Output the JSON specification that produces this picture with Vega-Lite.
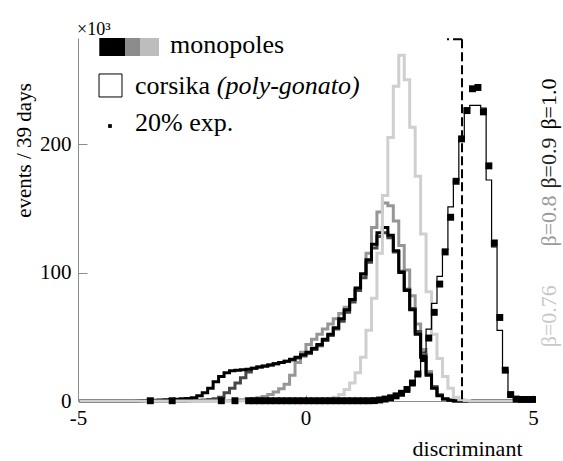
{
"$schema": "https://vega.github.io/schema/vega-lite/v6.json",
"width": 455, "height": 363,
"autosize": {"type": "none"},
"padding": {"left": 78, "top": 38, "right": 30, "bottom": 60},
"background": "white",
"config": {"view": {"stroke": null}, "font": "Liberation Serif",
 "style": {"guide-label": {"font": "Liberation Serif"}, "guide-title": {"font": "Liberation Serif"}, "text": {"font": "Liberation Serif"}},
 "axis": {"grid": false, "domainColor": "#8c8c8c", "tickColor": "#8c8c8c", "labelFont": "Liberation Serif", "labelFontSize": 21, "labelColor": "black", "titleFont": "Liberation Serif", "titleFontWeight": "normal", "titleColor": "black", "titleFontSize": 21}},
"datasets": {
"ann": [{}],
"h": [
{"d":-4.97,"b10":0,"b09":0,"b08":0,"b076":0},
{"d":-4.85,"b10":0,"b09":0,"b08":0,"b076":0},
{"d":-4.73,"b10":0,"b09":0,"b08":0,"b076":0},
{"d":-4.61,"b10":0,"b09":0,"b08":0,"b076":0},
{"d":-4.49,"b10":0,"b09":0,"b08":0,"b076":0},
{"d":-4.37,"b10":0,"b09":0,"b08":0,"b076":0},
{"d":-4.25,"b10":0,"b09":0,"b08":0,"b076":0},
{"d":-4.13,"b10":0,"b09":0,"b08":0,"b076":0},
{"d":-4.01,"b10":0,"b09":0,"b08":0,"b076":0},
{"d":-3.89,"b10":0,"b09":0,"b08":0,"b076":0},
{"d":-3.77,"b10":0,"b09":0,"b08":0,"b076":0},
{"d":-3.65,"b10":0.2,"b09":0,"b08":0,"b076":0},
{"d":-3.53,"b10":0.3,"b09":0,"b08":0,"b076":0},
{"d":-3.41,"b10":0.5,"b09":0,"b08":0,"b076":0,"exp":0.2},
{"d":-3.29,"b10":0.6,"b09":0,"b08":0,"b076":0},
{"d":-3.17,"b10":0.8,"b09":0,"b08":0,"b076":0},
{"d":-3.05,"b10":1,"b09":0,"b08":0,"b076":0},
{"d":-2.93,"b10":1.2,"b09":0,"b08":0,"b076":0,"exp":0.2},
{"d":-2.81,"b10":1.4,"b09":0,"b08":0,"b076":0},
{"d":-2.69,"b10":1.7,"b09":0,"b08":0,"b076":0},
{"d":-2.57,"b10":2,"b09":0.2,"b08":0,"b076":0},
{"d":-2.45,"b10":2.5,"b09":0.3,"b08":0,"b076":0},
{"d":-2.33,"b10":4,"b09":0.5,"b08":0,"b076":0},
{"d":-2.21,"b10":6.5,"b09":0.8,"b08":0,"b076":0},
{"d":-2.09,"b10":10,"b09":1.2,"b08":0,"b076":0},
{"d":-1.97,"b10":15,"b09":1.8,"b08":0,"b076":0},
{"d":-1.85,"b10":19,"b09":3,"b08":0,"b076":0,"exp":0.2},
{"d":-1.73,"b10":22,"b09":6.5,"b08":0.2,"b076":0},
{"d":-1.61,"b10":23.5,"b09":10,"b08":0.3,"b076":0},
{"d":-1.55,"exp":0.2},
{"d":-1.49,"b10":24,"b09":14,"b08":0.6,"b076":0},
{"d":-1.37,"b10":24.3,"b09":18,"b08":1,"b076":0},
{"d":-1.25,"b10":24.8,"b09":22.5,"b08":1.5,"b076":0,"exp":0.2},
{"d":-1.13,"b10":25.5,"b09":25.5,"b08":2,"b076":0,"exp":0.2},
{"d":-1.01,"b10":26.5,"b09":26.5,"b08":2.5,"b076":0,"exp":0.2},
{"d":-0.89,"b10":27.2,"b09":27,"b08":3.5,"b076":0,"exp":0.2},
{"d":-0.77,"b10":28,"b09":28,"b08":5,"b076":0,"exp":0.2},
{"d":-0.65,"b10":29,"b09":29,"b08":7,"b076":0,"exp":0.2},
{"d":-0.53,"b10":30,"b09":30,"b08":9.5,"b076":0,"exp":0.2},
{"d":-0.41,"b10":31,"b09":31,"b08":13,"b076":0,"exp":0.2},
{"d":-0.29,"b10":32.5,"b09":32,"b08":20,"b076":0,"exp":0.2},
{"d":-0.17,"b10":34,"b09":33.5,"b08":30,"b076":0,"exp":0.2},
{"d":-0.05,"b10":36,"b09":35,"b08":38,"b076":0,"exp":0.2},
{"d":0.07,"b10":38,"b09":37,"b08":44,"b076":0.2,"exp":0.2},
{"d":0.19,"b10":41,"b09":40,"b08":48,"b076":0.5,"exp":0.2},
{"d":0.31,"b10":44,"b09":43,"b08":52,"b076":0.8,"exp":0.2},
{"d":0.43,"b10":48,"b09":47,"b08":56,"b076":1.2,"exp":0.2},
{"d":0.55,"b10":52,"b09":51,"b08":60,"b076":2,"exp":0.2},
{"d":0.67,"b10":57,"b09":56,"b08":64,"b076":3,"exp":0.2},
{"d":0.79,"b10":64,"b09":62,"b08":68,"b076":5,"exp":0.2},
{"d":0.91,"b10":71,"b09":69,"b08":73,"b076":9,"exp":0.2},
{"d":1.03,"b10":79,"b09":77,"b08":79,"b076":14,"exp":0.2,"cors":0},
{"d":1.15,"b10":88,"b09":86,"b08":87,"b076":22,"exp":0.2,"cors":0.2},
{"d":1.27,"b10":99,"b09":96,"b08":98,"b076":34,"exp":0.2,"cors":0.3},
{"d":1.39,"b10":110,"b09":108,"b08":115,"b076":55,"exp":0.2,"cors":0.5},
{"d":1.51,"b10":122,"b09":119,"b08":135,"b076":80,"exp":0.3,"cors":0.7},
{"d":1.63,"b10":131,"b09":128,"b08":147,"b076":115,"exp":0.8,"cors":1},
{"d":1.75,"b10":135,"b09":131,"b08":154,"b076":160,"exp":1.5,"cors":1.5},
{"d":1.87,"b10":129,"b09":127,"b08":152,"b076":205,"exp":2.5,"cors":2},
{"d":1.99,"b10":117,"b09":116,"b08":140,"b076":245,"exp":4,"cors":3},
{"d":2.11,"b10":100,"b09":101,"b08":121,"b076":269,"exp":6,"cors":5},
{"d":2.23,"b10":86,"b09":87,"b08":102,"b076":250,"exp":9,"cors":8},
{"d":2.35,"b10":71,"b09":72,"b08":82,"b076":213,"exp":14,"cors":13},
{"d":2.47,"b10":52,"b09":54,"b08":60,"b076":175,"exp":21,"cors":20},
{"d":2.59,"b10":34,"b09":36,"b08":40,"b076":130,"exp":33,"cors":38},
{"d":2.71,"b10":20,"b09":21,"b08":23,"b076":85,"exp":49,"cors":56},
{"d":2.83,"b10":10,"b09":11,"b08":11,"b076":52,"exp":69,"cors":76},
{"d":2.95,"b10":4,"b09":4.5,"b08":5,"b076":33,"exp":91,"cors":97},
{"d":3.07,"b10":1.5,"b09":1.5,"b08":2,"b076":19,"exp":116,"cors":118},
{"d":3.19,"b10":0.5,"b09":0.5,"b08":0.7,"b076":10,"exp":143,"cors":151},
{"d":3.31,"b10":0,"b09":0,"b08":0.3,"b076":3,"exp":171,"cors":172},
{"d":3.43,"b10":0,"b09":0,"b08":0,"b076":1,"exp":204,"cors":203},
{"d":3.55,"b10":0,"b09":0,"b08":0,"b076":0.3,"exp":226,"cors":228},
{"d":3.67,"b10":0,"b09":0,"b08":0,"b076":0,"exp":243,"cors":230},
{"d":3.79,"b10":0,"b09":0,"b08":0,"b076":0,"exp":244,"cors":230},
{"d":3.91,"b10":0,"b09":0,"b08":0,"b076":0,"exp":225,"cors":228},
{"d":4.03,"b10":0,"b09":0,"b08":0,"b076":0,"exp":183,"cors":172},
{"d":4.15,"b10":0,"b09":0,"b08":0,"b076":0,"exp":123,"cors":120},
{"d":4.27,"b10":0,"b09":0,"b08":0,"b076":0,"exp":65,"cors":55},
{"d":4.39,"b10":0,"b09":0,"b08":0,"b076":0,"exp":24,"cors":24},
{"d":4.51,"b10":0,"b09":0,"b08":0,"b076":0,"exp":5,"cors":3},
{"d":4.63,"b10":0,"b09":0,"b08":0,"b076":0,"exp":1.5,"cors":1},
{"d":4.75,"b10":0,"b09":0,"b08":0,"b076":0,"exp":1.2,"cors":0.5},
{"d":4.87,"b10":0,"b09":0,"b08":0,"b076":0,"exp":1.2,"cors":0.3},
{"d":4.99,"b10":0,"b09":0,"b08":0,"b076":0,"exp":1.2,"cors":0.3}
]},
"layer": [
{"data": {"name": "h"}, "transform": [{"filter": "isValid(datum.b08)"}],
 "mark": {"type": "line", "interpolate": "step", "color": "#969696", "strokeWidth": 3},
 "encoding": {
  "x": {"field": "d", "type": "quantitative", "scale": {"domain": [-5, 5], "nice": false, "zero": false},
        "axis": {"values": [-5, 0, 5], "title": "discriminant", "tickSize": -6, "labelPadding": 12, "labelExpr": "'' + datum.value", "labelFlush": false, "labelFont": "Liberation Serif", "labelFontSize": 21, "titleFont": "Liberation Serif", "titleX": 389, "titleY": 54, "titleAlign": "center", "titleBaseline": "alphabetic", "titleFontSize": 22}},
  "y": {"field": "b08", "type": "quantitative", "scale": {"domain": [0, 282.5], "nice": false}, "title": "events / 39 days",
        "axis": {"values": [0, 100, 200], "tickSize": -9, "labelPadding": 16, "labelFont": "Liberation Serif", "labelFontSize": 21, "titleFont": "Liberation Serif", "titleFontSize": 21, "titleX": -48, "titleY": 112, "titleAlign": "center", "titleBaseline": "alphabetic", "titleAngle": 270}}
 }},
{"data": {"name": "h"}, "transform": [{"filter": "isValid(datum.b09)"}],
 "mark": {"type": "line", "interpolate": "step", "color": "#474747", "strokeWidth": 3},
 "encoding": {"x": {"field": "d", "type": "quantitative", "title": "discriminant"}, "y": {"field": "b09", "type": "quantitative", "title": "events / 39 days"}}},
{"data": {"name": "h"}, "transform": [{"filter": "isValid(datum.b10)"}],
 "mark": {"type": "line", "interpolate": "step", "color": "#000000", "strokeWidth": 3},
 "encoding": {"x": {"field": "d", "type": "quantitative", "title": "discriminant"}, "y": {"field": "b10", "type": "quantitative", "title": "events / 39 days"}}},
{"data": {"name": "h"}, "transform": [{"filter": "isValid(datum.b076)"}],
 "mark": {"type": "line", "interpolate": "step", "color": "#cfcfcf", "strokeWidth": 3},
 "encoding": {"x": {"field": "d", "type": "quantitative", "title": "discriminant"}, "y": {"field": "b076", "type": "quantitative", "title": "events / 39 days"}}},
{"data": {"name": "h"}, "transform": [{"filter": "isValid(datum.cors)"}],
 "mark": {"type": "line", "interpolate": "step", "color": "#000000", "strokeWidth": 1.2},
 "encoding": {"x": {"field": "d", "type": "quantitative", "title": "discriminant"}, "y": {"field": "cors", "type": "quantitative", "title": "events / 39 days"}}},
{"data": {"name": "h"}, "transform": [{"filter": "isValid(datum.exp)"}],
 "mark": {"type": "point", "shape": "square", "filled": true, "color": "#000000", "opacity": 1, "size": 48},
 "encoding": {"x": {"field": "d", "type": "quantitative", "title": "discriminant"}, "y": {"field": "exp", "type": "quantitative", "title": "events / 39 days"}}},
{"data": {"name": "ann"}, "mark": {"type": "rule", "color": "#000000", "strokeWidth": 2, "strokeDash": [9, 4]},
 "encoding": {"x": {"datum": 3.44}, "y": {"datum": 281.5}, "y2": {"datum": 0}}},
{"data": {"name": "ann"}, "mark": {"type": "rule", "color": "#000000", "strokeWidth": 2, "strokeDash": [9, 4]},
 "encoding": {"x": {"datum": 3.44}, "x2": {"datum": 3.11}, "y": {"datum": 281.5}}},
{"data": {"name": "ann"}, "mark": {"type": "rect", "color": "#000000"},
 "encoding": {"x": {"datum": -4.532}, "x2": {"datum": -3.967}, "y": {"datum": 282.5}, "y2": {"datum": 268.5}}},
{"data": {"name": "ann"}, "mark": {"type": "rect", "color": "#8c8c8c"},
 "encoding": {"x": {"datum": -3.967}, "x2": {"datum": -3.637}, "y": {"datum": 282.5}, "y2": {"datum": 268.5}}},
{"data": {"name": "ann"}, "mark": {"type": "rect", "color": "#bdbdbd"},
 "encoding": {"x": {"datum": -3.637}, "x2": {"datum": -3.22}, "y": {"datum": 282.5}, "y2": {"datum": 268.5}}},
{"data": {"name": "ann"}, "mark": {"type": "rect", "fill": "white", "stroke": "#000000", "strokeWidth": 1},
 "encoding": {"x": {"datum": -4.538}, "x2": {"datum": -4.033}, "y": {"datum": 254.5}, "y2": {"datum": 236.6}}},
{"data": {"name": "ann"}, "mark": {"type": "point", "shape": "square", "filled": true, "color": "#000000", "opacity": 1, "size": 14},
 "encoding": {"x": {"datum": -4.297}, "y": {"datum": 214}}},
{"data": {"name": "ann"}, "mark": {"type": "text", "text": "monopoles", "align": "left", "baseline": "alphabetic", "fontSize": 26, "font": "Liberation Serif", "color": "#000000"},
 "encoding": {"x": {"datum": -2.978}, "y": {"datum": 270.8}}},
{"data": {"name": "ann"}, "mark": {"type": "text", "text": "corsika", "align": "left", "baseline": "alphabetic", "fontSize": 26, "font": "Liberation Serif", "color": "#000000"},
 "encoding": {"x": {"datum": -3.747}, "y": {"datum": 238.9}}},
{"data": {"name": "ann"}, "mark": {"type": "text", "text": "(poly-gonato)", "align": "left", "baseline": "alphabetic", "fontSize": 26, "fontStyle": "italic", "font": "Liberation Serif", "color": "#000000"},
 "encoding": {"x": {"datum": -1.95}, "y": {"datum": 238.9}}},
{"data": {"name": "ann"}, "mark": {"type": "text", "text": "20% exp.", "align": "left", "baseline": "alphabetic", "fontSize": 26, "font": "Liberation Serif", "color": "#000000"},
 "encoding": {"x": {"datum": -3.747}, "y": {"datum": 210.1}}},
{"data": {"name": "ann"}, "mark": {"type": "text", "text": "×10³", "align": "left", "baseline": "alphabetic", "fontSize": 18, "font": "Liberation Serif", "color": "#000000"},
 "encoding": {"x": {"datum": -5.02}, "y": {"datum": 284.8}}},
{"data": {"name": "ann"}, "mark": {"type": "text", "text": "β=1.0", "angle": 270, "align": "center", "baseline": "middle", "fontSize": 22, "font": "Liberation Serif", "color": "#000000"},
 "encoding": {"x": {"datum": 5.35}, "y": {"datum": 231.1}}},
{"data": {"name": "ann"}, "mark": {"type": "text", "text": "β=0.9", "angle": 270, "align": "center", "baseline": "middle", "fontSize": 22, "font": "Liberation Serif", "color": "#222222"},
 "encoding": {"x": {"datum": 5.35}, "y": {"datum": 185.2}}},
{"data": {"name": "ann"}, "mark": {"type": "text", "text": "β=0.8", "angle": 270, "align": "center", "baseline": "middle", "fontSize": 22, "font": "Liberation Serif", "color": "#9a9a9a"},
 "encoding": {"x": {"datum": 5.35}, "y": {"datum": 140.1}}},
{"data": {"name": "ann"}, "mark": {"type": "text", "text": "β=0.76", "angle": 270, "align": "center", "baseline": "middle", "fontSize": 22, "font": "Liberation Serif", "color": "#c8c8c8"},
 "encoding": {"x": {"datum": 5.35}, "y": {"datum": 66}}}
]
}
